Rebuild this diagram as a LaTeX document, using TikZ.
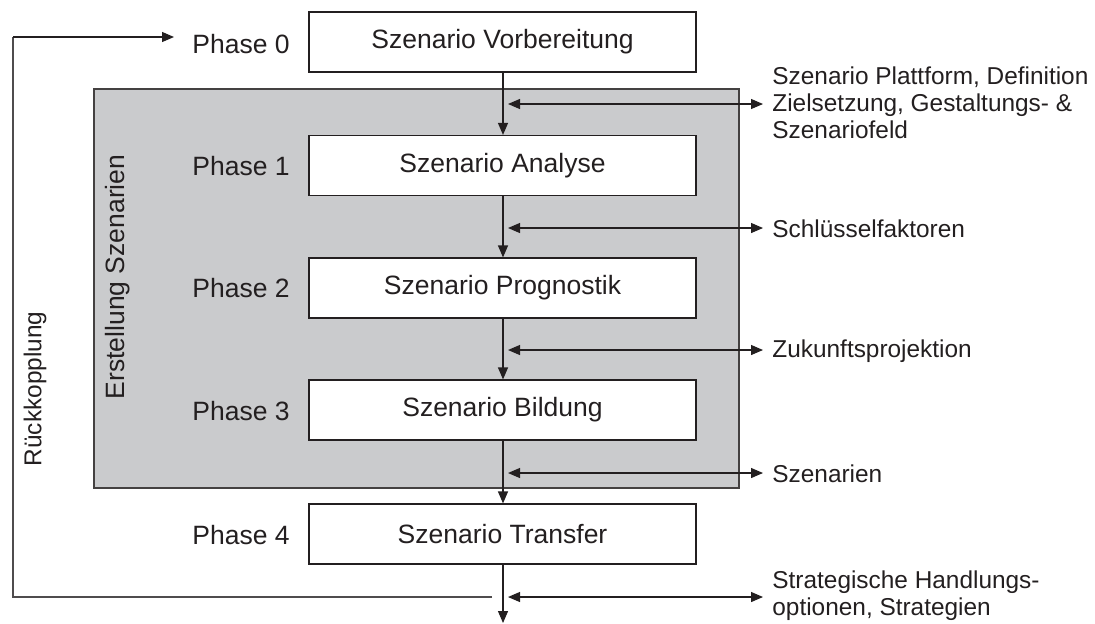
\documentclass[tikz,border=0pt]{standalone}
\usepackage{fontspec}
\setmainfont{Liberation Sans}
\usetikzlibrary{arrows.meta}
\definecolor{panelgray}{RGB}{202,203,205}
\definecolor{ink}{RGB}{35,31,32}
\begin{document}
\begin{tikzpicture}[x=0.5pt,y=-0.5pt,
  every node/.style={font=\fontsize{13.25}{13.6}\selectfont, text=ink},
  small/.style={font=\fontsize{12.2}{13.5}\selectfont},
  phasebox/.style={draw=ink, line width=0.6pt, fill=white, minimum width=193.5pt, minimum height=30pt, inner sep=0pt},
  phaselabel/.style={anchor=east, inner sep=0pt},
  outlabel/.style={anchor=west, align=left, inner sep=0pt, small},
  flow/.style={draw=ink, line width=0.6pt, -{Triangle[length=6pt,width=5pt]}},
  both/.style={draw=ink, line width=0.6pt, {Triangle[length=6pt,width=5pt]}-{Triangle[length=6pt,width=5pt]}},
  fb/.style={draw=ink!80, line width=0.6pt}
]
\useasboundingbox (0,0) rectangle (1095,623);
% panel
\node[draw=ink!85, line width=0.6pt, fill=panelgray, minimum width=322.5pt, minimum height=199.5pt, inner sep=0pt] (panel) at (416.5,288.5) {};
\node[rotate=90, inner sep=0pt] (erst) at (118,277) {Erstellung Szenarien};
% boxes
\node[phasebox] (b0) at (502.5,42) {Szenario Vorbereitung};
\node[phasebox] (b1) at (502.5,165.5) {Szenario Analyse};
\node[phasebox] (b2) at (502.5,288) {Szenario Prognostik};
\node[phasebox] (b3) at (502.5,410) {Szenario Bildung};
\node[phasebox] (b4) at (502.5,534) {Szenario Transfer};
% phase labels
\node[phaselabel] (p0) at (290,44) {Phase 0};
\node[phaselabel] (p1) at (290,166) {Phase 1};
\node[phaselabel] (p2) at (290,288) {Phase 2};
\node[phaselabel] (p3) at (290,411) {Phase 3};
\node[phaselabel] (p4) at (290,535) {Phase 4};
% flow
\coordinate (endB) at (503,623);
\draw[flow] (b0.south -| 503,0) -- (b1.north -| 503,0);
\draw[flow] (b1.south -| 503,0) -- (b2.north -| 503,0);
\draw[flow] (b2.south -| 503,0) -- (b3.north -| 503,0);
\draw[flow] (b3.south -| 503,0) -- (b4.north -| 503,0);
\draw[flow] (b4.south -| 503,0) -- (endB);
% outputs
\coordinate (l1) at (508,104); \coordinate (r1) at (763,104);
\coordinate (l2) at (508,228); \coordinate (r2) at (763,228);
\coordinate (l3) at (508,350); \coordinate (r3) at (763,350);
\coordinate (l4) at (508,473); \coordinate (r4) at (763,473);
\coordinate (l5) at (508,597); \coordinate (r5) at (763,597);
\draw[both] (l1) -- (r1);
\draw[both] (l2) -- (r2);
\draw[both] (l3) -- (r3);
\draw[both] (l4) -- (r4);
\draw[both] (l5) -- (r5);
\node[outlabel] (o1) at (772,103) {Szenario Plattform, Definition\\Zielsetzung, Gestaltungs- \&\\Szenariofeld};
\node[outlabel] (o2) at (772,229) {Schlüsselfaktoren};
\node[outlabel] (o3) at (772,351) {Zukunftsprojektion};
\node[outlabel] (o4) at (772,474) {Szenarien};
\node[outlabel] (o5) at (772,596) {Strategische Handlungs-\\optionen, Strategien};
% feedback
\coordinate (fbR) at (492,597);
\coordinate (fbL) at (13,597);
\coordinate (fbT) at (13,37);
\coordinate (fbE) at (174,37);
\draw[fb] (fbR) -- (fbL) -- (fbT);
\draw[flow] (fbT) -- (fbE);
\node[rotate=90, inner sep=0pt, small] (rk) at (35,389) {Rückkopplung};
\end{tikzpicture}
\end{document}
